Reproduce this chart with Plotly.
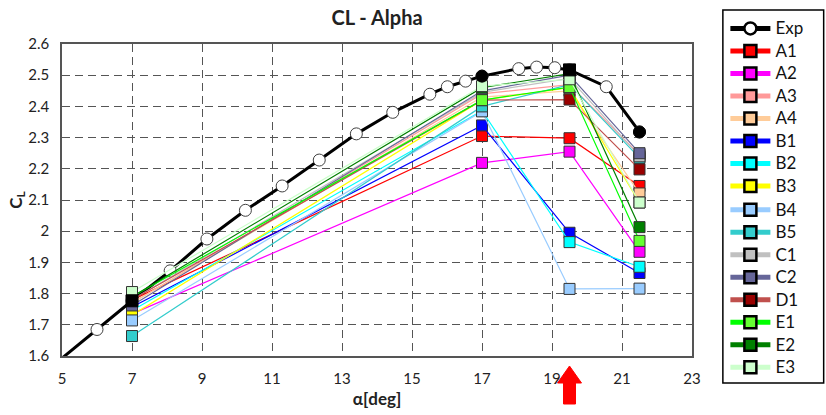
import plotly.graph_objects as go

# Angles of attack at which the simulated cases were evaluated
alpha_cases = [7, 17, 19.5, 21.5]

# Lift coefficient of each case at alpha_cases
cl_A1 = [1.780, 2.305, 2.298, 2.145]
cl_A2 = [1.735, 2.219, 2.255, 1.934]
cl_A3 = [1.770, 2.440, 2.470, 2.245]
cl_A4 = [1.770, 2.430, 2.450, 2.121]
cl_B1 = [1.757, 2.339, 1.995, 1.866]
cl_B2 = [1.746, 2.386, 1.965, 1.886]
cl_B3 = [1.731, 2.420, 2.460, 2.092]
cl_B4 = [1.714, 2.384, 1.815, 1.816]
cl_B5 = [1.664, 2.400, 2.470, 2.235]
cl_C1 = [1.780, 2.445, 2.490, 2.240]
cl_C2 = [1.762, 2.450, 2.500, 2.250]
cl_D1 = [1.780, 2.420, 2.422, 2.198]
cl_E1 = [1.790, 2.420, 2.462, 1.969]
cl_E2 = [1.790, 2.460, 2.505, 2.013]
cl_E3 = [1.805, 2.465, 2.487, 2.092]

# Experimental polar
exp_alpha = [4.5, 6.0, 7.0, 8.09, 9.14, 10.24, 11.29, 12.35, 13.41, 14.45, 15.51,
             16.01, 16.53, 17.0, 18.05, 18.56, 19.08, 19.5, 20.55, 21.5]
exp_cl = [1.547, 1.685, 1.777, 1.873, 1.975, 2.067, 2.145, 2.228, 2.312, 2.381, 2.439,
          2.463, 2.481, 2.497, 2.521, 2.526, 2.524, 2.517, 2.463, 2.318]

x_ticks = [5, 7, 9, 11, 13, 15, 17, 19, 21, 23]
y_ticks = [1.6, 1.7, 1.8, 1.9, 2.0, 2.1, 2.2, 2.3, 2.4, 2.5, 2.6]
y_tick_text = ["1.6", "1.7", "1.8", "1.9", "2", "2.1", "2.2", "2.3", "2.4", "2.5", "2.6"]

# name, values, line colour, marker fill
cases = [
    ("A1", cl_A1, "#ff0000", "#ff0000"),
    ("A2", cl_A2, "#ff00ff", "#ff00ff"),
    ("A3", cl_A3, "#ff9999", "#ff9999"),
    ("A4", cl_A4, "#ffcc99", "#ffcc99"),
    ("B1", cl_B1, "#0000ff", "#0000ff"),
    ("B2", cl_B2, "#00ffff", "#00ffff"),
    ("B3", cl_B3, "#ffff00", "#ffff00"),
    ("B4", cl_B4, "#99ccff", "#99ccff"),
    ("B5", cl_B5, "#33cccc", "#33cccc"),
    ("C1", cl_C1, "#c0c0c0", "#c0c0c0"),
    ("C2", cl_C2, "#666699", "#666699"),
    ("D1", cl_D1, "#c0504d", "#990000"),
    ("E1", cl_E1, "#00ff00", "#66ff33"),
    ("E2", cl_E2, "#008000", "#008000"),
    ("E3", cl_E3, "#ccffcc", "#ccffcc"),
]

FONT = "Lato, 'Open Sans', sans-serif"


def key_label(text):
    # legend rows keep a compact pitch while the labels render larger
    return f"<span style='font-size:17px'>{text}</span>"


fig = go.Figure()

# Experimental curve
fig.add_trace(go.Scatter(
    x=exp_alpha, y=exp_cl, mode="lines+markers", name="Exp", showlegend=False,
    legendgroup="Exp",
    line=dict(color="black", width=3),
    marker=dict(symbol="circle", size=12, color="white",
                line=dict(color="#404040", width=1)),
))
fig.add_trace(go.Scatter(
    x=[None], y=[None], mode="lines+markers", name=key_label("Exp"), legendgroup="Exp",
    legend="legend",
    line=dict(color="black", width=5),
    marker=dict(symbol="circle", size=12, color="white",
                line=dict(color="black", width=2.5)),
))

# The key is split over two stacked legends so that it can be taller than the plot area
for i, (name, vals, lcol, mcol) in enumerate(cases):
    fig.add_trace(go.Scatter(
        x=alpha_cases, y=vals, mode="lines+markers", name=name, showlegend=False,
        legendgroup=name,
        line=dict(color=lcol, width=1.2),
        marker=dict(symbol="square", size=11, color=mcol,
                    line=dict(color="#333333", width=1)),
    ))
    fig.add_trace(go.Scatter(
        x=[None], y=[None], mode="lines+markers", name=key_label(name), legendgroup=name,
        legend="legend" if i < 7 else "legend2",
        line=dict(color=lcol, width=5),
        marker=dict(symbol="square", size=12, color=mcol,
                    line=dict(color="black", width=2.5)),
    ))

# Experimental points taken at the simulated angles, drawn filled on top
hl_symbols = ["square", "circle", "square", "circle"]
hl_cl = [exp_cl[exp_alpha.index(a)] for a in alpha_cases]
fig.add_trace(go.Scatter(
    x=alpha_cases, y=hl_cl, mode="markers", showlegend=False, hoverinfo="skip",
    marker=dict(symbol=hl_symbols, size=12, color="black",
                line=dict(color="black", width=1)),
))

grid = dict(showgrid=True, gridcolor="#555555", gridwidth=1.3, griddash="8px,5px",
            showline=True, linecolor="#555555", linewidth=1.5, mirror=True,
            zeroline=False, ticks="", ticklabelstandoff=8, automargin=False,
            tickfont=dict(family=FONT, size=15, color="#222222"))

fig.update_xaxes(range=[5, 23], tickvals=x_ticks, **grid,
                 title=dict(text="<b>α[deg]</b>", font=dict(family=FONT, size=17, color="#222222"),
                            standoff=7))
fig.update_yaxes(range=[1.6, 2.6], tickvals=y_ticks, ticktext=y_tick_text, **grid,
                 title=dict(text="<b>C<sub>L</sub></b>", font=dict(family=FONT, size=17, color="#222222"),
                            standoff=1))

# Red marker arrow under the 19.5 deg case
fig.add_shape(
    type="path", xref="x", yref="paper", xsizemode="pixel", ysizemode="pixel",
    xanchor=19.5, yanchor=0,
    path="M 0,-10 L 12,-27 L 6,-27 L 6,-48 L -6,-48 L -6,-27 L -12,-27 Z",
    fillcolor="#ff0000", line=dict(color="#ff0000", width=1),
)

# Frame around the two legend blocks
fig.add_shape(
    type="rect", xref="paper", yref="paper",
    x0=1.049, x1=1.209, y0=-0.0865, y1=1.109,
    line=dict(color="black", width=1.5), fillcolor="rgba(0,0,0,0)",
)

legend_style = dict(xanchor="left", yanchor="top", borderwidth=0,
                    bgcolor="rgba(255,255,255,0)",
                    font=dict(family=FONT, size=15, color="#111111"),
                    tracegroupgap=0, itemwidth=40)

fig.update_layout(
    width=826, height=415,
    margin=dict(l=62, r=134, t=44, b=59, autoexpand=False),
    paper_bgcolor="white", plot_bgcolor="white",
    title=dict(text="<b>CL - Alpha</b>", x=0.5, xref="paper", xanchor="center",
               y=0.957, yanchor="middle", font=dict(family=FONT, size=20, color="#222222")),
    legend=dict(x=1.053, y=1.102, **legend_style),
    legend2=dict(x=1.053, y=0.521, **legend_style),
    showlegend=True,
)

fig.write_html("out.html")
